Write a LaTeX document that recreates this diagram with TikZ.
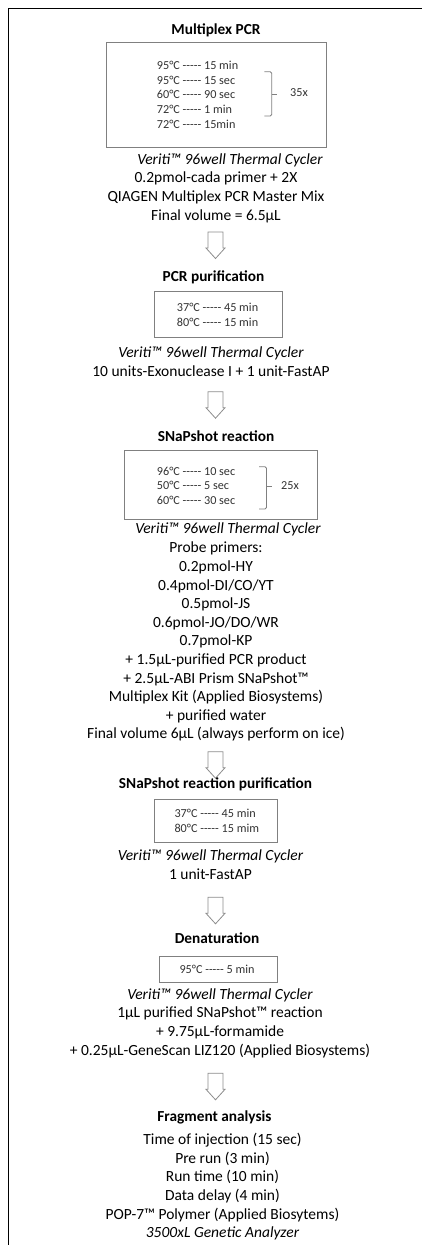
\documentclass[tikz,border=0pt]{standalone}
\usepackage{fontspec}
\setmainfont{Carlito}
\usepackage{tikz}
\usetikzlibrary{positioning}
\definecolor{boxGray}{RGB}{128,128,128}
\definecolor{arrowGray}{RGB}{140,140,140}
\definecolor{stepGray}{RGB}{50,50,50}
% five hyphens, kept apart so that no dash ligature forms
\newcommand{\dashrun}{\hbox{-}\hbox{-}\hbox{-}\hbox{-}\hbox{-}}
\tikzset{flowarrow/.pic={
  \draw[draw=arrowGray,line width=0.8pt,fill=white]
    (-7.5,0) -- (-7.5,16) -- (-9.5,16) -- (0,26.5) -- (9.5,16) -- (7.5,16) -- (7.5,0) -- cycle;}}

\begin{document}
\begin{tikzpicture}[x=1pt,y=-1pt,
    stage/.style={font=\fontsize{15.3}{18}\selectfont\bfseries,inner sep=0pt},
    info/.style={font=\fontsize{15.5}{18.6}\selectfont,align=center,inner sep=0pt},
    cycler/.style={font=\fontsize{15.5}{18.6}\selectfont\itshape,inner sep=0pt},
    program/.style={draw=boxGray,line width=0.8pt,inner sep=0pt},
    steps/.style={font=\fontsize{12.2}{14.8}\selectfont,text=stepGray,align=left,inner sep=0pt,anchor=west},
    bracket/.style={draw=boxGray,line width=0.8pt,rounded corners=1.5pt}]
  \useasboundingbox (0,0) rectangle (422,1245);
  % Page frame
  \draw[line width=1.4pt] (8.5,1260) |- (440,8.5);
  % Multiplex PCR
  \node[stage] (mpcr) at (216,30.7) {Multiplex PCR};
  \node[program,minimum width=219.7pt,minimum height=105pt] (mpcrbox) at (216.2,94.8) {};
  \node[steps] (mpcrsteps) at (156.7,94.8)
    {95°C \dashrun{} 15 min\\95°C \dashrun{} 15 sec\\60°C \dashrun{} 90 sec\\72°C \dashrun{} 1 min\\72°C \dashrun{} 15min};
  \draw[bracket] (264.3,71.7) -| (271.7,94.3) |- (264.3,116);
  \draw[bracket] (271.7,94.3) -- (277,94.3);
  \node[info,font=\fontsize{12.2}{14.8}\selectfont,text=stepGray] (mpcrcount) at (299,93) {35x};
  \node[cycler] (mpcrcycler) at (230,160.7) {Veriti™ 96well Thermal Cycler};
  \node[info] (mpcrmix) at (216,197.3)
    {0.2pmol-cada primer + 2X\\QIAGEN Multiplex PCR Master Mix\\Final volume = 6.5µL};
  \pic at (215.5,232) {flowarrow};
  % PCR purification
  \node[stage] (pcrpur) at (213.5,277) {PCR purification};
  \node[program,minimum width=128pt,minimum height=45.3pt] (pcrpurbox) at (218.3,314.3) {};
  \node[steps] (pcrpursteps) at (176.7,314.5) {37°C \dashrun{} 45 min\\80°C \dashrun{} 15 min};
  \node[info] (pcrpurmix) at (211,361.5)
    {\itshape Veriti™ 96well Thermal Cycler\\10 units-Exonuclease I + 1 unit-FastAP};
  \pic at (215.5,391.7) {flowarrow};
  % SNaPshot reaction
  \node[stage] (snap) at (216,436) {SNaPshot reaction};
  \node[program,minimum width=193pt,minimum height=69pt] (snapbox) at (220.5,484.5) {};
  \node[steps] (snapsteps) at (156.7,485.7)
    {96°C \dashrun{} 10 sec\\50°C \dashrun{} 5 sec\\60°C \dashrun{} 30 sec};
  \draw[bracket] (259,466.7) -| (266.5,486) |- (259,509);
  \draw[bracket] (266.5,486) -- (272,486);
  \node[info,font=\fontsize{12.2}{14.8}\selectfont,text=stepGray] (snapcount) at (290,486) {25x};
  \node[cycler] (snapcycler) at (228,529) {Veriti™ 96well Thermal Cycler};
  \node[info] (snapmix) at (216,641.8)
    {Probe primers:\\0.2pmol-HY\\0.4pmol-DI/CO/YT\\0.5pmol-JS\\0.6pmol-JO/DO/WR\\0.7pmol-KP\\
     + 1.5µL-purified PCR product\\+ 2.5µL-ABI Prism SNaPshot™\\Multiplex Kit (Applied Biosystems)\\
     + purified water\\Final volume 6µL (always perform on ice)};
  \pic at (215.5,751.7) {flowarrow};
  % SNaPshot reaction purification
  \node[stage] (snappur) at (215.5,784.3) {SNaPshot reaction purification};
  \node[program,minimum width=123pt,minimum height=43pt] (snappurbox) at (215.8,820.5) {};
  \node[steps] (snappursteps) at (174.3,820.8) {37°C \dashrun{} 45 min\\80°C \dashrun{} 15 mim};
  \node[info] (snappurmix) at (210.5,864.5)
    {\itshape Veriti™ 96well Thermal Cycler\\1 unit-FastAP};
  \pic at (215.5,897.3) {flowarrow};
  % Denaturation
  \node[stage] (denat) at (217,938.3) {Denaturation};
  \node[program,minimum width=118.7pt,minimum height=25.6pt] (denatbox) at (218.3,969.5) {};
  \node[steps] (denatsteps) at (179.3,969.3) {95°C \dashrun{} 5 min};
  \node[info] (denatmix) at (220,1023)
    {\itshape Veriti™ 96well Thermal Cycler\\1µL purified SNaPshot™ reaction\\+ 9.75µL-formamide\\
     + 0.25µL-GeneScan LIZ120 (Applied Biosystems)};
  \pic at (215.5,1073.3) {flowarrow};
  % Fragment analysis
  \node[stage] (frag) at (214.5,1117.3) {Fragment analysis};
  \node[info] (fragmix) at (222.5,1186.7)
    {Time of injection (15 sec)\\Pre run (3 min)\\Run time (10 min)\\Data delay (4 min)\\
     POP-7™ Polymer (Applied Biosytems)\\\itshape 3500xL Genetic Analyzer};
\end{tikzpicture}
\end{document}
